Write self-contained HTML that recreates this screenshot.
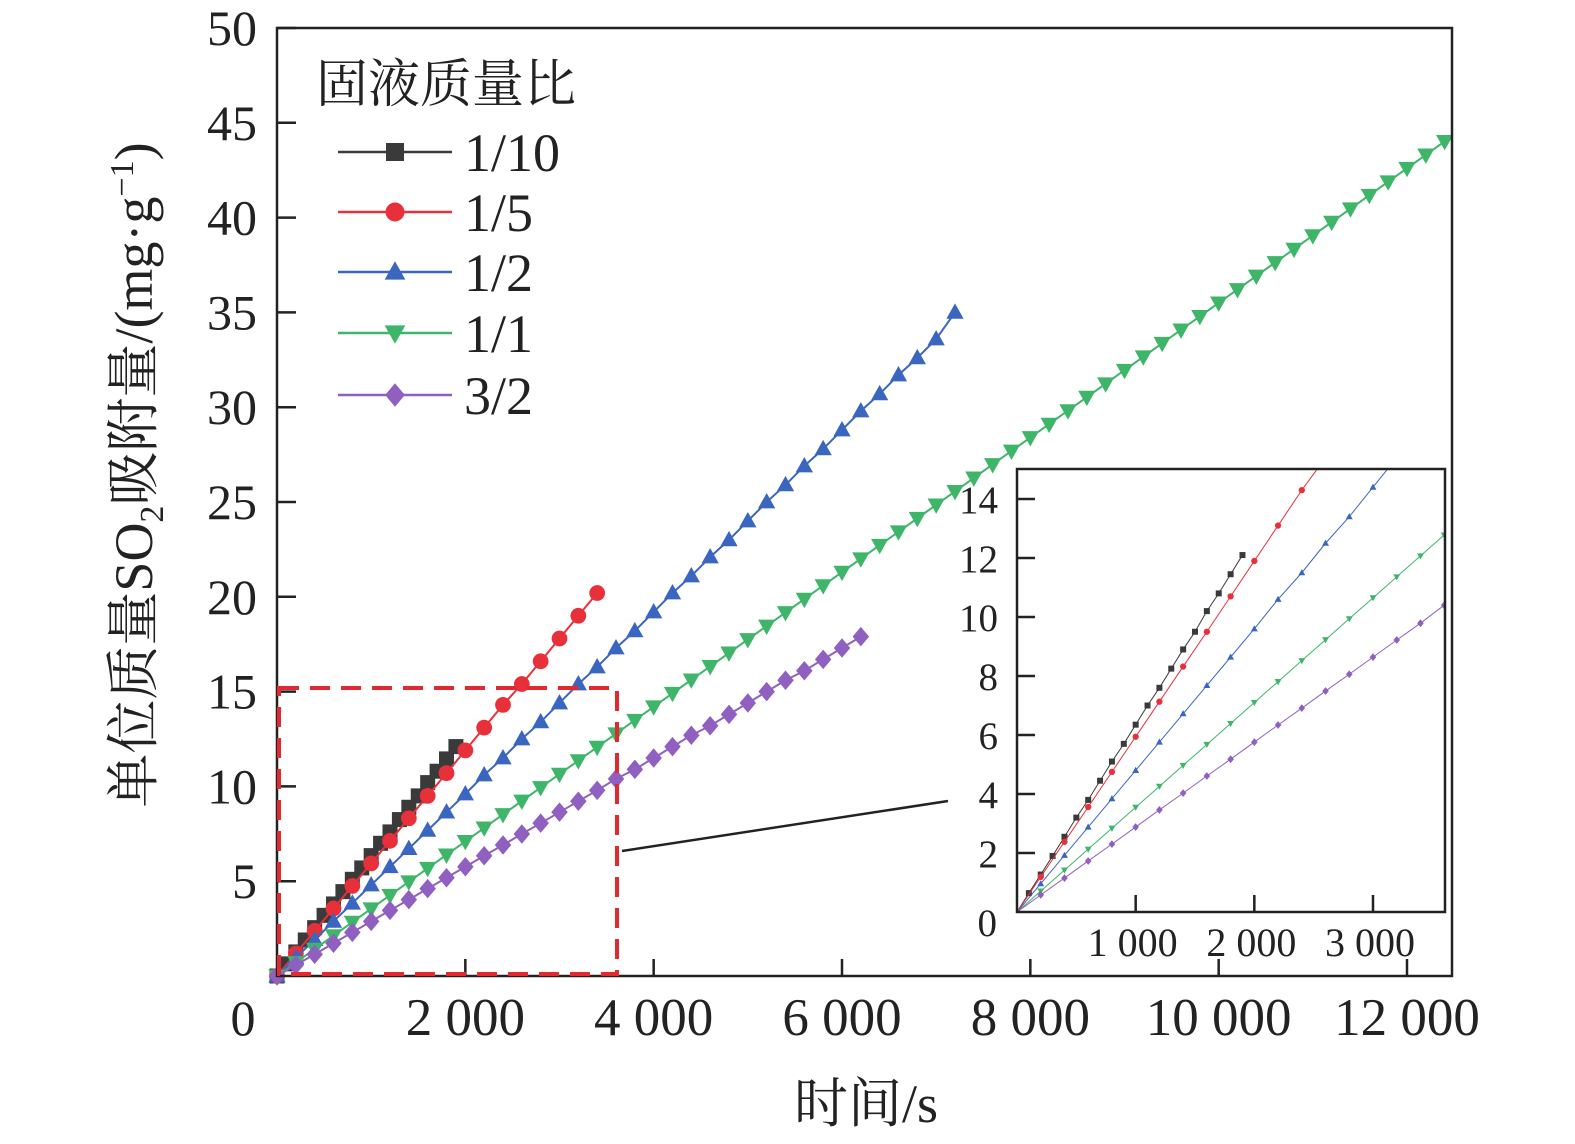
<!DOCTYPE html>
<html><head><meta charset="utf-8"><style>
body{margin:0;background:#fff;}
svg{display:block;}
svg text{font-family:"Liberation Serif","Noto Serif CJK SC",serif;fill:#222;}
</style></head><body>
<svg id="chart" width="1575" height="1144" xmlns="http://www.w3.org/2000/svg">
<g id="main"></g><g id="inset"></g>
</svg>
<script>
const seriesNames=["1/10","1/5","1/2","1/1","3/2"];
const seriesColors=["#3a3a3a","#e8303a","#3a66c0","#3fb56a","#9060c0"];
const seriesShapes=["square","circle","up","down","diamond"];
const seriesStep=[100,200,200,200,200];
const s110=[0,0.64,1.27,1.9,2.55,3.2,3.8,4.45,5.1,5.7,6.35,7.0,7.6,8.25,8.9,9.5,10.2,10.8,11.45,12.1];
const s15=[0,1.19,2.38,3.56,4.75,5.94,7.13,8.32,9.5,10.7,11.9,13.1,14.3,15.4,16.6,17.8,19.0,20.2];
const s12=[0,0.96,1.92,2.88,3.84,4.8,5.76,6.72,7.68,8.64,9.6,10.6,11.5,12.5,13.4,14.4,15.4,16.3,17.3,18.2,19.2,20.2,21.1,22.1,23.0,24.0,25.0,25.9,26.9,27.8,28.8,29.8,30.7,31.7,32.6,33.6,35.0];
const s11=[0,0.71,1.42,2.13,2.84,3.55,4.26,4.97,5.68,6.39,7.1,7.81,8.52,9.23,9.94,10.65,11.36,12.07,12.78,13.49,14.2,14.91,15.62,16.33,17.04,17.75,18.46,19.17,19.88,20.59,21.3,22.01,22.72,23.43,24.14,24.85,25.56,26.27,26.98,27.69,28.4,29.11,29.82,30.53,31.24,31.95,32.66,33.37,34.08,34.79,35.5,36.21,36.92,37.63,38.34,39.05,39.76,40.47,41.18,41.89,42.6,43.31,44.02];
const s32=[0,0.58,1.15,1.73,2.3,2.88,3.46,4.03,4.61,5.18,5.76,6.34,6.91,7.49,8.06,8.64,9.22,9.79,10.4,10.9,11.5,12.1,12.7,13.2,13.8,14.4,15.0,15.6,16.1,16.7,17.3,17.9];
const seriesValues=[s110,s15,s12,s11,s32];
const xTicks=[2000,4000,6000,8000,10000,12000];
const xTickLabels=["2 000","4 000","6 000","8 000","10 000","12 000"];
const yTicks=[5,10,15,20,25,30,35,40,45,50];
const insetXTicks=[1000,2000,3000];
const insetXLabels=["1 000","2 000","3 000"];
const insetYTicks=[0,2,4,6,8,10,12,14];

const NS="http://www.w3.org/2000/svg";
function mk(p,tag,attrs){const e=document.createElementNS(NS,tag);for(const k in attrs)e.setAttribute(k,attrs[k]);p.appendChild(e);return e;}
function marker(p,shape,x,y,r,color){
  let e;
  if(shape==="square")e=mk(p,"rect",{x:x-r,y:y-r,width:2*r,height:2*r,fill:color});
  else if(shape==="circle")e=mk(p,"circle",{cx:x,cy:y,r:r*1.05,fill:color});
  else if(shape==="up")e=mk(p,"polygon",{points:`${x},${y-r*1.2} ${x-r*1.15},${y+r*0.85} ${x+r*1.15},${y+r*0.85}`,fill:color});
  else if(shape==="down")e=mk(p,"polygon",{points:`${x},${y+r*1.2} ${x-r*1.15},${y-r*0.85} ${x+r*1.15},${y-r*0.85}`,fill:color});
  else e=mk(p,"polygon",{points:`${x},${y-r*1.3} ${x+r*1.1},${y} ${x},${y+r*1.3} ${x-r*1.1},${y}`,fill:color});
  return e;
}
const L=277,R=1452,T=28,B=976;
const xS=t=>L+t*(1407-277)/12000;
const yS=v=>B-v*(B-T)/50;
const g=document.getElementById("main");
for(let i=0;i<seriesNames.length;i++){
  const vals=seriesValues[i];
  const pts=vals.map((v,j)=>[xS(j*seriesStep[i]),yS(v)]);
  const grp=mk(g,"g",{});
  
  
  mk(grp,"polyline",{points:pts.map(p=>p.join(",")).join(" "),fill:"none",stroke:seriesColors[i],"stroke-width":2});
  pts.forEach(p=>{const m=marker(grp,seriesShapes[i],p[0],p[1],7.5,seriesColors[i]);
    
    });
}
const frame=mk(g,"rect",{x:L,y:T,width:R-L,height:B-T,fill:"none",stroke:"#222","stroke-width":2.5});


xTicks.forEach((t,i)=>{const x=xS(t);mk(g,"line",{x1:x,x2:x,y1:B,y2:B-17,stroke:"#222","stroke-width":2.5});
  const tx=mk(g,"text",{x:x,y:1035,"font-size":53,"text-anchor":"middle"});tx.textContent=xTickLabels[i];
  
  });
yTicks.forEach(v=>{const y=yS(v);mk(g,"line",{x1:L,x2:L+19,y1:y,y2:y,stroke:"#222","stroke-width":2.5});
  const tx=mk(g,"text",{x:257,y:y+17,"font-size":50,"text-anchor":"end"});tx.textContent=v;
  
  });
const z=mk(g,"text",{x:243,y:1035,"font-size":50,"text-anchor":"middle"});z.textContent="0";


const xt=mk(g,"text",{x:866,y:1122,"font-size":54,"text-anchor":"middle"});xt.textContent="时间/s";


const yt=mk(g,"text",{x:0,y:0,"font-size":54,"text-anchor":"middle",transform:"translate(152,475) rotate(-90)"});
yt.innerHTML='单位质量SO<tspan font-size="34" dy="11">2</tspan><tspan dy="-11">吸附量/(mg·g</tspan><tspan font-size="34" dy="-19">−1</tspan><tspan dy="19">)</tspan>';


const zb=mk(g,"rect",{x:279,y:688,width:338,height:286,fill:"none",stroke:"#e02a30","stroke-width":4,"stroke-dasharray":"20,11"});


const cl=mk(g,"line",{x1:622,y1:851,x2:948,y2:801,stroke:"#222","stroke-width":2.5});


const lg=mk(g,"g",{});


const lt=mk(lg,"text",{x:316,y:102,"font-size":52});lt.textContent="固液质量比";


const legY=[152,212,272,333,395];
seriesNames.forEach((n,i)=>{const y=legY[i];const e=mk(lg,"g",{});
  
  
  mk(e,"line",{x1:338,x2:452,y1:y,y2:y,stroke:seriesColors[i],"stroke-width":2.5});
  marker(e,seriesShapes[i],395,y,9,seriesColors[i]);
  const t=mk(e,"text",{x:464,y:y+19,"font-size":54});t.textContent=n;});
const gi=document.getElementById("inset");


const IL=1017,IR=1445,IT=469,IB=912;
const ixS=t=>IL+t*(1373-1017)/3000;
const iyS=v=>IB-v*(IB-499)/14;
mk(gi,"defs",{}).innerHTML='<clipPath id="ic"><rect x="'+IL+'" y="'+IT+'" width="'+(IR-IL)+'" height="'+(IB-IT)+'"/></clipPath>';
const ig=mk(gi,"g",{"clip-path":"url(#ic)"});
for(let i=0;i<seriesNames.length;i++){
  const pts=seriesValues[i].map((v,j)=>[ixS(j*seriesStep[i]),iyS(v)]);
  mk(ig,"polyline",{points:pts.map(p=>p.join(",")).join(" "),fill:"none",stroke:seriesColors[i],"stroke-width":1});
  pts.forEach(p=>marker(ig,seriesShapes[i],p[0],p[1],3,seriesColors[i]));
}
mk(gi,"rect",{x:IL,y:IT,width:IR-IL,height:IB-IT,fill:"none",stroke:"#222","stroke-width":2.5});
insetYTicks.forEach(v=>{const y=iyS(v);if(v>0)mk(gi,"line",{x1:IL,x2:IL+18,y1:y,y2:y,stroke:"#222","stroke-width":2.5});
  const t=mk(gi,"text",{x:v===0?997:998,y:v===0?y+24:y+14,"font-size":39,"text-anchor":"end"});t.textContent=v;
  
  });
insetXTicks.forEach((t,i)=>{const x=ixS(t);mk(gi,"line",{x1:x,x2:x,y1:IB,y2:IB-17,stroke:"#222","stroke-width":2.5});
  const tx=mk(gi,"text",{x:x-3,y:956,"font-size":40,"text-anchor":"middle"});tx.textContent=insetXLabels[i];
  
  });
</script>
</body></html>
